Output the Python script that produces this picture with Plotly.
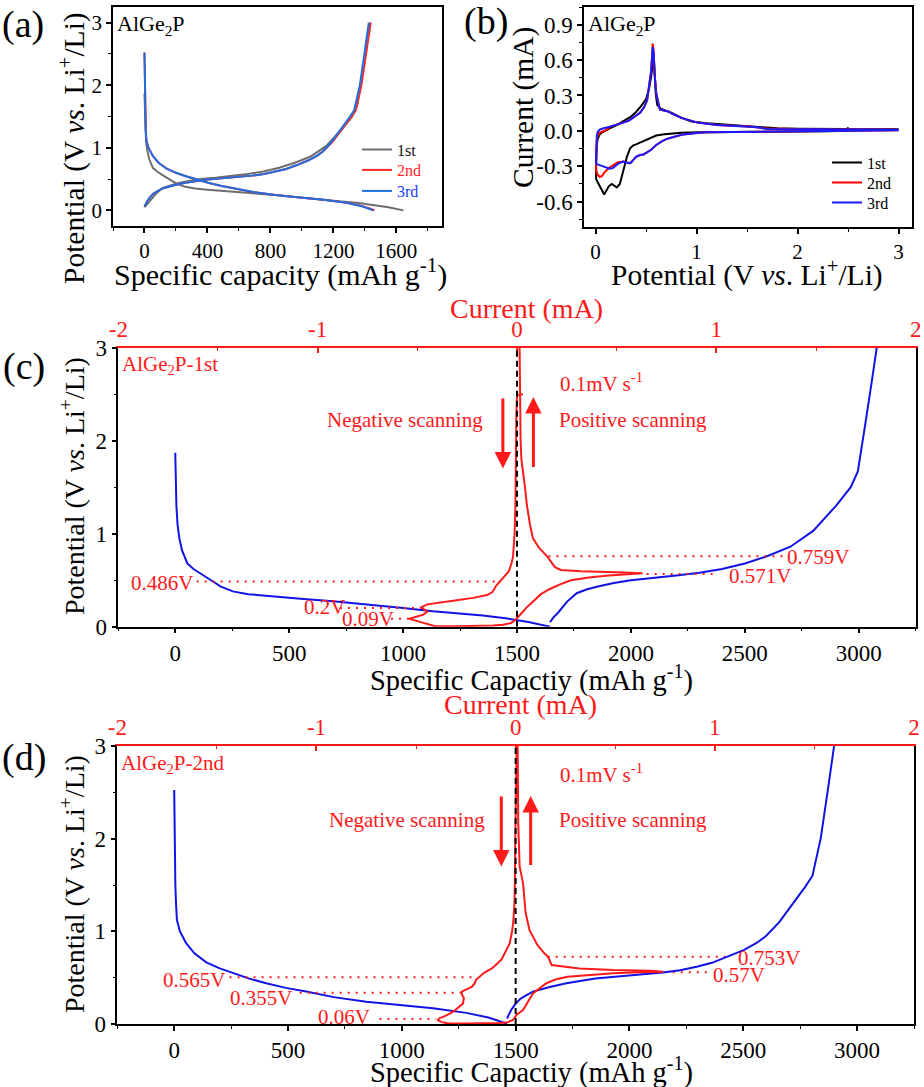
import plotly.graph_objects as go

FONT = "Liberation Serif"
W, H = 924, 1087
RED = "#ff1a1a"
BLUE_AB = "#1f6fe0"

# ---------------- Galvanostatic data (capacity mAh/g, potential V) ----------------
gcd1_dis_cap = [0, 2, 5, 10, 18, 30, 53, 80, 110, 150, 200, 253, 320, 400, 550, 693, 850, 1000, 1131, 1250, 1350, 1450, 1550, 1645]
gcd1_dis_v = [1.87, 1.6, 1.3, 1.1, 0.95, 0.82, 0.68, 0.62, 0.57, 0.51, 0.43, 0.38, 0.35, 0.33, 0.30, 0.275, 0.24, 0.20, 0.165, 0.14, 0.12, 0.09, 0.05, 0.0]
gcd1_chg_cap = [0, 15, 35, 55, 75, 117, 160, 205, 280, 355, 450, 555, 655, 755, 855, 955, 1055, 1155, 1255, 1320, 1351, 1370, 1385, 1410, 1434]
gcd1_chg_v = [0.05, 0.10, 0.15, 0.21, 0.27, 0.36, 0.40, 0.43, 0.47, 0.50, 0.52, 0.55, 0.58, 0.62, 0.68, 0.76, 0.86, 1.03, 1.30, 1.50, 1.67, 1.95, 2.2, 2.6, 3.0]

gcd2_dis_cap = [0, 1, 3, 5, 8, 12, 25, 53, 90, 141, 200, 258, 330, 404, 490, 580, 700, 844, 1000, 1137, 1283, 1380, 1430, 1462]
gcd2_dis_v = [2.525, 2.2, 1.8, 1.5, 1.3, 1.12, 1.0, 0.87, 0.76, 0.665, 0.60, 0.55, 0.49, 0.44, 0.39, 0.35, 0.29, 0.24, 0.20, 0.17, 0.12, 0.07, 0.03, 0.0]
gcd2_chg_cap = [0, 10, 18, 38, 58, 78, 114, 188, 261, 388, 538, 684, 760, 838, 900, 964, 1042, 1100, 1138, 1196, 1258, 1310, 1342, 1360, 1378, 1408, 1437]
gcd2_chg_v = [0.06, 0.11, 0.15, 0.22, 0.27, 0.30, 0.35, 0.40, 0.44, 0.49, 0.52, 0.555, 0.58, 0.62, 0.66, 0.72, 0.80, 0.88, 0.95, 1.10, 1.30, 1.48, 1.60, 1.80, 2.00, 2.50, 3.0]

gcd3_dis_cap = [0, 1, 3, 5, 8, 12, 25, 53, 90, 141, 200, 258, 330, 404, 490, 580, 700, 844, 1000, 1137, 1283, 1375, 1422, 1452]
gcd3_dis_v = [2.52, 2.2, 1.8, 1.5, 1.3, 1.12, 1.0, 0.87, 0.76, 0.665, 0.60, 0.55, 0.49, 0.44, 0.39, 0.35, 0.29, 0.24, 0.20, 0.17, 0.12, 0.07, 0.03, 0.0]
gcd3_chg_cap = [0, 10, 18, 38, 58, 78, 114, 188, 261, 388, 538, 684, 760, 838, 900, 964, 1042, 1100, 1135, 1190, 1250, 1300, 1332, 1350, 1368, 1397, 1425]
gcd3_chg_v = [0.06, 0.11, 0.15, 0.22, 0.27, 0.30, 0.35, 0.40, 0.44, 0.49, 0.52, 0.555, 0.58, 0.62, 0.66, 0.72, 0.80, 0.88, 0.95, 1.10, 1.30, 1.48, 1.60, 1.80, 2.00, 2.50, 3.0]

# ---------------- Cyclic voltammetry data (potential V, current mA) ----------------
cv1_v = [2.50, 2.49, 2.3, 2.0, 1.6, 1.3, 1.0, 0.85, 0.75, 0.68, 0.60, 0.55, 0.50, 0.48, 0.44, 0.40, 0.37, 0.34, 0.31, 0.28,
         0.26, 0.24, 0.21, 0.19, 0.16, 0.13, 0.10, 0.085, 0.06, 0.035, 0.015, 0.005,
         0.005, 0.008, 0.012, 0.02, 0.04, 0.07, 0.10, 0.15, 0.20, 0.25, 0.30, 0.35, 0.40, 0.45, 0.50, 0.53, 0.55, 0.565,
         0.575, 0.585, 0.595, 0.61, 0.64, 0.70, 0.76, 0.85, 0.95, 1.1, 1.3, 1.5, 1.65, 1.8, 2.0, 2.5, 3.0]
cv1_i = [0.03, 0.0, -0.003, -0.004, -0.006, -0.008, -0.012, -0.015, -0.02, -0.028, -0.04, -0.06, -0.08, -0.09, -0.105, -0.115, -0.125, -0.15, -0.22, -0.32,
         -0.40, -0.45, -0.48, -0.47, -0.45, -0.47, -0.52, -0.54, -0.50, -0.46, -0.43, -0.41,
         -0.30, -0.20, -0.12, -0.07, -0.03, -0.01, 0.005, 0.025, 0.045, 0.07, 0.09, 0.12, 0.16, 0.21, 0.27, 0.36, 0.46, 0.60,
         0.63, 0.50, 0.32, 0.22, 0.19, 0.17, 0.15, 0.11, 0.08, 0.065, 0.05, 0.04, 0.03, 0.022, 0.018, 0.015, 0.013]

cv2_v = [3.0, 2.5, 2.0, 1.5, 1.3, 1.1, 1.0, 0.87, 0.78, 0.70, 0.655, 0.60, 0.55, 0.50, 0.475, 0.44, 0.40, 0.37, 0.35, 0.32,
         0.28, 0.22, 0.17, 0.13, 0.09, 0.06, 0.04, 0.02, 0.01, 0.005,
         0.005, 0.008, 0.012, 0.02, 0.04, 0.07, 0.10, 0.15, 0.22, 0.33, 0.44, 0.48, 0.51, 0.53, 0.547, 0.558, 0.565, 0.575, 0.583, 0.60,
         0.637, 0.70, 0.726, 0.76, 0.85, 1.01, 1.2, 1.52, 1.7, 2.17, 2.6, 3.0]
cv2_i = [0.005, 0.0, -0.002, -0.004, -0.006, -0.012, -0.018, -0.03, -0.05, -0.07, -0.09, -0.12, -0.16, -0.19, -0.20, -0.205, -0.22, -0.25, -0.27, -0.27,
         -0.26, -0.265, -0.29, -0.315, -0.35, -0.385, -0.39, -0.37, -0.35, -0.33,
         -0.25, -0.15, -0.08, -0.04, -0.015, -0.005, 0.005, 0.037, 0.055, 0.087, 0.154, 0.20, 0.26, 0.38, 0.49, 0.62, 0.74, 0.68, 0.49, 0.32,
         0.18, 0.168, 0.162, 0.145, 0.11, 0.07, 0.05, 0.037, 0.02, 0.013, 0.011, 0.01]

cv3_v = [3.0, 2.5, 2.0, 1.5, 1.3, 1.1, 1.0, 0.87, 0.78, 0.70, 0.655, 0.60, 0.55, 0.50, 0.475, 0.44, 0.40, 0.37, 0.34, 0.31,
         0.27, 0.22, 0.17, 0.14, 0.10, 0.06, 0.03, 0.01, 0.005,
         0.005, 0.008, 0.012, 0.02, 0.04, 0.07, 0.10, 0.15, 0.22, 0.33, 0.44, 0.48, 0.51, 0.53, 0.547, 0.558, 0.565, 0.575, 0.583, 0.60,
         0.637, 0.70, 0.726, 0.76, 0.85, 1.01, 1.2, 1.52, 1.6, 1.7, 2.17, 2.6, 3.0]
cv3_i = [0.005, 0.0, -0.002, -0.004, -0.006, -0.012, -0.018, -0.03, -0.05, -0.07, -0.09, -0.12, -0.16, -0.19, -0.20, -0.205, -0.22, -0.25, -0.275, -0.27,
         -0.26, -0.28, -0.315, -0.32, -0.31, -0.30, -0.29, -0.285, -0.28,
         -0.20, -0.10, -0.04, -0.01, 0.01, 0.02, 0.025, 0.037, 0.055, 0.087, 0.154, 0.20, 0.26, 0.38, 0.49, 0.60, 0.71, 0.66, 0.49, 0.32,
         0.18, 0.168, 0.162, 0.145, 0.11, 0.07, 0.05, 0.035, 0.03, 0.015, 0.012, 0.011, 0.01]

# ---------------- Labels / guides ----------------
cycle_names = ["1st", "2nd", "3rd"]
cap_ticks = [0, 400, 800, 1200, 1600]
cap_ticks_cd = [0, 500, 1000, 1500, 2000, 2500, 3000]
cur_ticks = [-2, -1, 0, 1, 2]
cur_ticktext = ["-2", "-1", "0", "1", "2"]
cv_ticks = [-0.6, -0.3, 0.0, 0.3, 0.6, 0.9]
cv_ticktext = ["-0.6", "-0.3", "0.0", "0.3", "0.6", "0.9"]

# panel (c) guide lines: potential, start/end capacity
c_guide_v = [0.486, 0.20, 0.085, 0.757, 0.567]
c_guide_x0 = [94, 723, 912, 1638, 2069]
c_guide_x1 = [1411, 1089, 1039, 2669, 2362]
c_lab_text = ["0.486V", "0.2V", "0.09V", "0.759V", "0.571V"]
c_lab_x = [86, 555, 723, 2676, 2420]
c_lab_y = [0.466, 0.215, 0.083, 0.753, 0.55]
c_lab_anchor = ["right", "left", "left", "left", "left"]

d_guide_v = [0.504, 0.338, 0.054, 0.727, 0.558]
d_guide_x0 = [243, 551, 902, 1641, 2155]
d_guide_x1 = [1327, 1261, 1151, 2426, 2353]
d_lab_text = ["0.565V", "0.355V", "0.06V", "0.753V", "0.57V"]
d_lab_x = [234, 527, 871, 2470, 2360]
d_lab_y = [0.475, 0.277, 0.08, 0.71, 0.53]
d_lab_anchor = ["right", "right", "right", "left", "left"]

# scanning arrows: capacity position, tail potential, head potential
c_arrow_x = [1438, 1572]
c_arrow_from = [2.47, 1.70]
c_arrow_to = [1.70, 2.47]
d_arrow_x = [1437, 1566]
d_arrow_from = [2.47, 1.70]
d_arrow_to = [1.70, 2.46]


def px(x):
    return x / W


def py(y):
    return 1 - y / H


fig = go.Figure()

# ---------- (a) ----------
colors_a = ["#6e6e6e", "#ff2a2a", BLUE_AB]
dis_a = [(gcd1_dis_cap, gcd1_dis_v), (gcd2_dis_cap, gcd2_dis_v), (gcd3_dis_cap, gcd3_dis_v)]
chg_a = [(gcd1_chg_cap, gcd1_chg_v), (gcd2_chg_cap, gcd2_chg_v), (gcd3_chg_cap, gcd3_chg_v)]
name_a = ['<span style="color:#111111">1st</span>', '<span style="color:#ff2a2a">2nd</span>',
          '<span style="color:#1a3cff">3rd</span>']
legends_a = ["legend", "legend3", "legend4"]
for k in range(3):
    fig.add_trace(go.Scatter(x=dis_a[k][0], y=dis_a[k][1], mode="lines", line=dict(color=colors_a[k], width=2),
                             name=name_a[k], legendgroup="a%d" % k, legend=legends_a[k], xaxis="x", yaxis="y"))
    fig.add_trace(go.Scatter(x=chg_a[k][0], y=chg_a[k][1], mode="lines", line=dict(color=colors_a[k], width=2),
                             name=name_a[k], legendgroup="a%d" % k, showlegend=False, xaxis="x", yaxis="y"))

# ---------- (b) ----------
colors_b = ["#000000", "#ff0000", "#1a1aff"]
legends_b = ["legend2", "legend5", "legend6"]
cvs = [(cv1_v, cv1_i), (cv2_v, cv2_i), (cv3_v, cv3_i)]
for k in range(3):
    fig.add_trace(go.Scatter(x=cvs[k][0], y=cvs[k][1], mode="lines", line=dict(color=colors_b[k], width=2),
                             name=cycle_names[k], legend=legends_b[k], xaxis="x2", yaxis="y2"))

# ---------- (c) ----------
CBLUE = "#1212e6"
fig.add_trace(go.Scatter(x=gcd1_dis_cap, y=gcd1_dis_v, mode="lines", line=dict(color=CBLUE, width=2),
                         showlegend=False, xaxis="x3", yaxis="y3"))
off1 = gcd1_dis_cap[-1]
fig.add_trace(go.Scatter(x=[off1 + c for c in gcd1_chg_cap], y=gcd1_chg_v, mode="lines", line=dict(color=CBLUE, width=2),
                         showlegend=False, xaxis="x3", yaxis="y3"))
for v, x0, x1 in zip(c_guide_v, c_guide_x0, c_guide_x1):
    fig.add_trace(go.Scatter(x=[x0, x1], y=[v, v], mode="lines", line=dict(color=RED, width=2, dash="2px,6px"),
                             showlegend=False, xaxis="x3", yaxis="y3"))
fig.add_trace(go.Scatter(x=cv1_i, y=cv1_v, mode="lines", line=dict(color=RED, width=2),
                         showlegend=False, xaxis="x5", yaxis="y3"))

# ---------- (d) ----------
off2 = gcd2_dis_cap[-1]
fig.add_trace(go.Scatter(x=gcd2_dis_cap, y=gcd2_dis_v, mode="lines", line=dict(color=CBLUE, width=2),
                         showlegend=False, xaxis="x4", yaxis="y4"))
for v, x0, x1 in zip(d_guide_v, d_guide_x0, d_guide_x1):
    fig.add_trace(go.Scatter(x=[x0, x1], y=[v, v], mode="lines", line=dict(color=RED, width=2, dash="2px,6px"),
                             showlegend=False, xaxis="x4", yaxis="y4"))
fig.add_trace(go.Scatter(x=cv2_i, y=cv2_v, mode="lines", line=dict(color=RED, width=2),
                         showlegend=False, xaxis="x6", yaxis="y4"))
fig.add_trace(go.Scatter(x=[off2 + c for c in gcd2_chg_cap], y=gcd2_chg_v, mode="lines", line=dict(color=CBLUE, width=2),
                         showlegend=False, xaxis="x4", yaxis="y4"))

# ---------- axes ----------
def ax(domain, rng, tickvals, ticktext=None, minor_dtick=None, minor_tick0=0, size=21, mirror=True,
       color="black", ticks="outside", lw=1.5, **kw):
    d = dict(domain=domain, range=rng, tickmode="array", tickvals=tickvals, showgrid=False, zeroline=False,
             showline=True, linecolor=color, linewidth=lw, mirror=mirror, ticks=ticks, ticklen=5, tickwidth=1.5,
             tickcolor=color, tickfont=dict(family=FONT, size=size, color=color), automargin=False)
    if ticktext is not None:
        d["ticktext"] = ticktext
    if minor_dtick:
        d["minor"] = dict(tickmode="linear", tick0=minor_tick0, dtick=minor_dtick, ticks=ticks, ticklen=3,
                          tickwidth=1.2, tickcolor=color, showgrid=False)
    d.update(kw)
    return d


fig.update_layout(
    xaxis=ax([px(113), px(442)], [-200, 1890], cap_ticks, minor_dtick=200, anchor="y"),
    yaxis=ax([py(226), py(7)], [-0.25, 3.25], [0, 1, 2, 3], minor_dtick=0.5, anchor="x"),
    xaxis2=ax([px(584), px(911.7)], [-0.115, 3.13], [0, 1, 2, 3], minor_dtick=0.5, anchor="y2"),
    yaxis2=ax([py(227), py(7)], [-0.815, 1.05], cv_ticks, cv_ticktext, minor_dtick=0.15, size=23, anchor="x2"),
    xaxis3=ax([px(118.3), px(915.7)], [-250, 3250], cap_ticks_cd, minor_dtick=250, size=23, mirror=False, anchor="y3"),
    yaxis3=ax([py(626.7), py(347.7)], [0, 3], [0, 1, 2, 3], minor_dtick=0.5, size=23, anchor="x3"),
    xaxis5=ax([px(118.3), px(915.7)], [-2, 2], cur_ticks, cur_ticktext, minor_dtick=0.5, minor_tick0=-2, size=23,
              mirror=False, color=RED, ticks="inside", lw=2, overlaying="x3", anchor="y3", side="top"),
    xaxis4=ax([px(117.3), px(914)], [-250, 3250], cap_ticks_cd, minor_dtick=250, size=23, mirror=False, anchor="y4"),
    yaxis4=ax([py(1024), py(746)], [0, 3], [0, 1, 2, 3], minor_dtick=0.5, size=23, anchor="x4"),
    xaxis6=ax([px(117.3), px(914)], [-2, 2], cur_ticks, cur_ticktext, minor_dtick=0.5, minor_tick0=-2, size=23,
              mirror=False, color=RED, ticks="inside", lw=2, overlaying="x4", anchor="y4", side="top"),
)

# vertical dashed zero-current lines
fig.add_shape(type="line", xref="x5", yref="y3", x0=0, x1=0, y0=0, y1=3,
              line=dict(color="black", width=2, dash="6px,4px"))
fig.add_shape(type="line", xref="x6", yref="y4", x0=0, x1=0, y0=0, y1=3,
              line=dict(color="black", width=2, dash="6px,4px"))

ann = []


def txt(text, x, y, size, xref="paper", yref="paper", color="black", xanchor="center", yanchor="middle", angle=0):
    ann.append(dict(text=text, x=x, y=y, xref=xref, yref=yref, showarrow=False, xanchor=xanchor, yanchor=yanchor,
                    textangle=angle, font=dict(family=FONT, size=size, color=color)))


POT = "Potential (V <i>vs</i>. Li<sup>+</sup>/Li)"
# panel letters
txt("(a)", px(23), py(25), 38)
txt("(b)", px(486), py(22), 38)
txt("(c)", px(24), py(366), 38)
txt("(d)", px(24), py(757), 38)
# axis titles
txt("Specific capacity (mAh g<sup>-1</sup>)", px(280), py(272), 30)
txt(POT, px(73), py(148), 29.5, angle=-90)
txt(POT, px(747), py(273), 29.5)
txt("Current (mA)", px(524), py(108), 29.5, angle=-90)
txt("Specific Capactiy (mAh g<sup>-1</sup>)", px(531), py(678), 28.5)
txt("Current (mA)", px(526), py(309), 28, color=RED)
txt(POT, px(72), py(486), 28, angle=-90)
txt("Specific Capactiy (mAh g<sup>-1</sup>)", px(531), py(1070), 28.5)
txt("Current (mA)", px(520), py(704), 28, color=RED)
txt(POT, px(72), py(884), 28, angle=-90)
# corner labels
txt("AlGe<sub>2</sub>P", 0.006, 0.99, 22, xref="x domain", yref="y domain", xanchor="left", yanchor="top")
txt("AlGe<sub>2</sub>P", 0.006, 0.99, 22, xref="x2 domain", yref="y2 domain", xanchor="left", yanchor="top")
txt("AlGe<sub>2</sub>P-1st", 0.002, 0.99, 21, xref="x3 domain", yref="y3 domain", color=RED, xanchor="left", yanchor="top")
txt("AlGe<sub>2</sub>P-2nd", 0.002, 0.99, 21, xref="x4 domain", yref="y4 domain", color=RED, xanchor="left", yanchor="top")

# panel (c) texts
txt("0.1mV s<sup>-1</sup>", 1680, 2.63, 21, xref="x3", yref="y3", color=RED, xanchor="left")
txt("Negative scanning", 1359, 2.22, 21, xref="x3", yref="y3", color=RED, xanchor="right")
txt("Positive scanning", 1675, 2.22, 21, xref="x3", yref="y3", color=RED, xanchor="left")
for t, x, y, a in zip(c_lab_text, c_lab_x, c_lab_y, c_lab_anchor):
    txt(t, x, y, 21, xref="x3", yref="y3", color=RED, xanchor=a)
# panel (d) texts
txt("0.1mV s<sup>-1</sup>", 1685, 2.70, 21, xref="x4", yref="y4", color=RED, xanchor="left")
txt("Negative scanning", 1372, 2.20, 21, xref="x4", yref="y4", color=RED, xanchor="right")
txt("Positive scanning", 1680, 2.20, 21, xref="x4", yref="y4", color=RED, xanchor="left")
for t, x, y, a in zip(d_lab_text, d_lab_x, d_lab_y, d_lab_anchor):
    txt(t, x, y, 21, xref="x4", yref="y4", color=RED, xanchor=a)

# arrows
for xs, y0s, y1s, xr, yr in [(c_arrow_x, c_arrow_from, c_arrow_to, "x3", "y3"),
                             (d_arrow_x, d_arrow_from, d_arrow_to, "x4", "y4")]:
    for x, y0, y1 in zip(xs, y0s, y1s):
        ann.append(dict(x=x, y=y1, ax=x, ay=y0, xref=xr, yref=yr, axref=xr, ayref=yr, text="",
                        showarrow=True, arrowhead=2, arrowsize=1.1, arrowwidth=3, arrowcolor=RED, standoff=0))


def leg(xp, ytop):
    return dict(x=px(xp), y=py(ytop), xanchor="left", yanchor="top", bgcolor="rgba(0,0,0,0)",
                font=dict(family=FONT, size=16, color="black"), itemwidth=30, tracegroupgap=0)


fig.update_layout(
    annotations=ann,
    width=W, height=H,
    margin=dict(l=0, r=0, t=0, b=0),
    paper_bgcolor="white", plot_bgcolor="white",
    font=dict(family=FONT, color="black"),
    legend=leg(357, 132.5), legend3=leg(357, 153), legend4=leg(357, 174),
    legend2=leg(827, 145.7), legend5=leg(827, 165.7), legend6=leg(827, 185.7),
)

fig.write_html("out.html", config={"displayModeBar": False},
               post_script="document.body.style.margin='0px';document.body.style.padding='0px';")
